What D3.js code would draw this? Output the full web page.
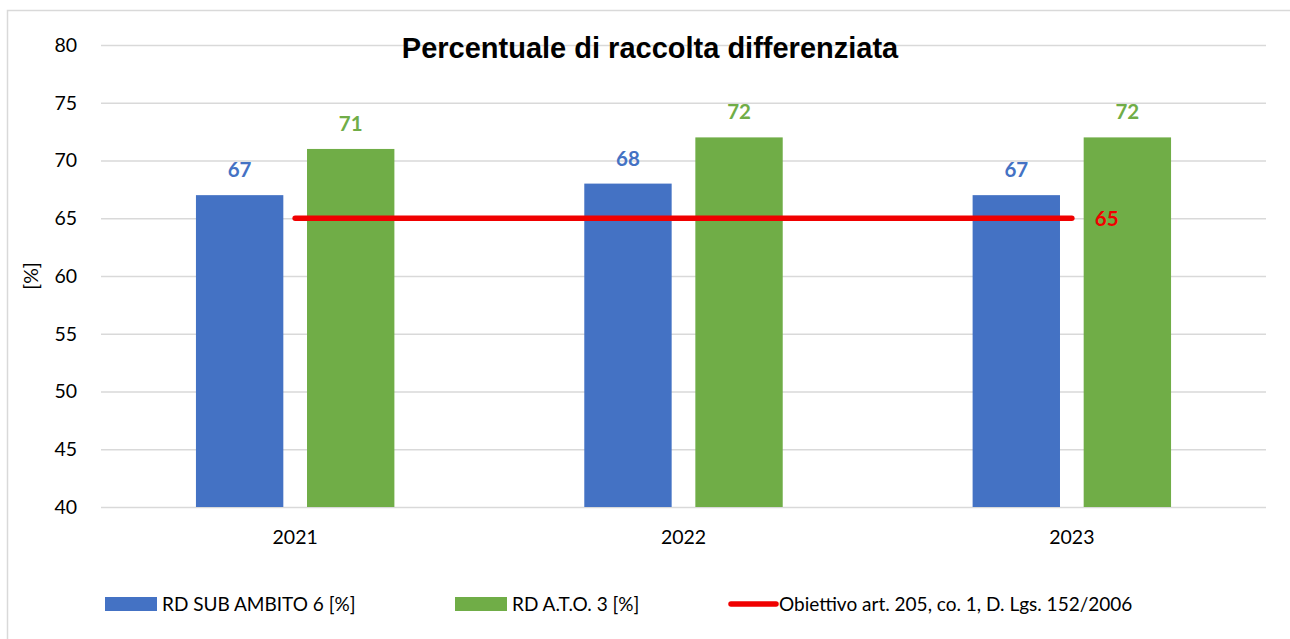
<!DOCTYPE html>
<html>
<head>
    <script src="https://d3js.org/d3.v7.min.js" charset="utf-8"></script>
    <style>
        body { margin: 0; background: #fff; }
        svg { font-family: Lato, "Open Sans", sans-serif; }
        .grid line { stroke: #d9d9d9; stroke-width: 1.3; }
        .grid path { display: none; }
    </style>
</head>
<body>
<script>
    // data
    var years = ["2021", "2022", "2023"];
    var subAmbito = [67, 68, 67];        // RD SUB AMBITO 6 [%]
    var ato = [71, 72, 72];              // RD A.T.O. 3 [%]
    var target = [65, 65, 65];           // Obiettivo art. 205
    var yTicks = [40, 45, 50, 55, 60, 65, 70, 75, 80];

    var W = 1290, H = 639;
    var margin = { top: 45, right: 24, bottom: 132, left: 101 };
    var width = 1266 - margin.left,
        height = 507 - margin.top;

    var blue = "#4472c4", green = "#70ad47", red = "#f00000";

    var svg = d3.select("body").append("svg")
        .attr("width", W)
        .attr("height", H);

    // outer chart border
    svg.append("rect")
        .attr("x", 7.5).attr("y", 10.5)
        .attr("width", W).attr("height", H)
        .attr("fill", "none")
        .attr("stroke", "#d9d9d9")
        .attr("stroke-width", 1.5);

    var g = svg.append("g")
        .attr("transform", "translate(" + margin.left + "," + margin.top + ")");

    var x = d3.scaleBand().domain(years).range([0, width]);
    var y = d3.scaleLinear().domain([40, 80]).range([height, 0]);

    // gridlines
    g.append("g")
        .attr("class", "grid")
        .call(d3.axisLeft(y).tickValues(yTicks).tickSize(-width).tickFormat(""));

    // y tick labels
    g.selectAll(".ytick")
        .data(yTicks)
        .enter().append("text")
        .attr("x", -24)
        .attr("y", function (d) { return y(d); })
        .attr("dy", "0.35em")
        .attr("text-anchor", "end")
        .style("font-size", "19.5px")
        .style("fill", "#000")
        .text(function (d) { return d; });

    // x labels
    g.selectAll(".xlab")
        .data(years)
        .enter().append("text")
        .attr("x", function (d) { return x(d) + x.bandwidth() / 2; })
        .attr("y", height + 37)
        .attr("text-anchor", "middle")
        .style("font-size", "19.5px")
        .text(function (d) { return d; });

    // y title
    svg.append("text")
        .attr("transform", "translate(38,276) rotate(-90)")
        .attr("text-anchor", "middle")
        .style("font-size", "19.5px")
        .text("[%]");

    var barW = x.bandwidth() * 0.225, off = x.bandwidth() * 0.143;

    function bars(vals, color, sign) {
        var cx = function (d, i) { return x(years[i]) + x.bandwidth() / 2 + sign * off; };
        g.selectAll(null)
            .data(vals)
            .enter().append("rect")
            .attr("x", function (d, i) { return cx(d, i) - barW / 2; })
            .attr("y", function (d) { return y(d); })
            .attr("width", barW)
            .attr("height", function (d) { return height - y(d); })
            .attr("fill", color);
        g.selectAll(null)
            .data(vals)
            .enter().append("text")
            .attr("x", cx)
            .attr("y", function (d) { return y(d) - 18; })
            .attr("text-anchor", "middle")
            .style("font-size", "20.5px")
            .style("font-weight", "bold")
            .style("fill", color)
            .text(function (d) { return d; });
    }
    bars(subAmbito, blue, -1);
    bars(ato, green, 1);

    // target line
    var line = d3.line()
        .x(function (d, i) { return x(years[i]) + x.bandwidth() / 2; })
        .y(function (d) { return y(d); });
    g.append("path")
        .datum(target)
        .attr("d", line)
        .attr("fill", "none")
        .attr("stroke", red)
        .attr("stroke-width", 5.5)
        .attr("stroke-linecap", "round");
    g.append("text")
        .attr("x", x(years[2]) + x.bandwidth() / 2 + 23)
        .attr("y", y(target[2]))
        .attr("dy", "0.4em")
        .style("font-size", "20.5px")
        .style("font-weight", "bold")
        .style("fill", red)
        .text(target[2]);

    // title
    svg.append("text")
        .attr("x", 650)
        .attr("y", 58)
        .attr("text-anchor", "middle")
        .style("font-family", "'Liberation Sans', Arial, sans-serif")
        .style("font-size", "29px")
        .style("font-weight", "bold")
        .text("Percentuale di raccolta differenziata");

    // legend
    var leg = svg.append("g").attr("transform", "translate(0,604)");
    leg.append("rect").attr("x", 105).attr("y", -7).attr("width", 52).attr("height", 14).attr("fill", blue);
    leg.append("text").attr("x", 162).attr("dy", "0.35em").style("font-size", "19px").text("RD SUB AMBITO 6 [%]");
    leg.append("rect").attr("x", 455).attr("y", -7).attr("width", 52).attr("height", 14).attr("fill", green);
    leg.append("text").attr("x", 512).attr("dy", "0.35em").style("font-size", "19px").text("RD A.T.O. 3 [%]");
    leg.append("line").attr("x1", 731).attr("x2", 776).attr("y1", 0).attr("y2", 0)
        .attr("stroke", red).attr("stroke-width", 5.5).attr("stroke-linecap", "round");
    leg.append("text").attr("x", 779).attr("dy", "0.35em").style("font-size", "19px").text("Obiettivo art. 205, co. 1, D. Lgs. 152/2006");
</script>
</body>
</html>
